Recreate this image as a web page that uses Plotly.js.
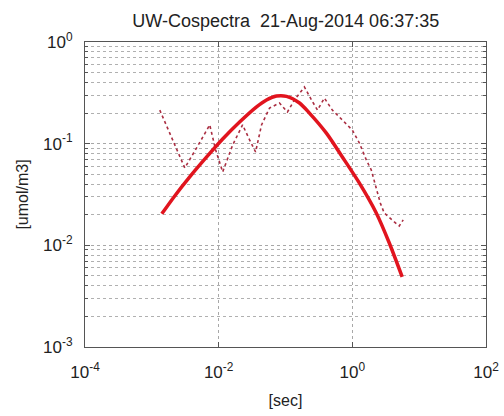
<!DOCTYPE html>
<html><head><meta charset="utf-8">
<script src="https://cdn.plot.ly/plotly-3.0.1.min.js"></script>
<style>html,body{margin:0;padding:0;background:#fff}#chart{width:504px;height:416px}</style>
</head><body><div id="chart"></div>
<script>
// Model (fitted) cospectrum - thick red curve
const modelX = [0.00141, 0.00220, 0.00369, 0.00662, 0.01148, 0.02056, 0.0369, 0.0520, 0.0734, 0.1036, 0.162, 0.228, 0.409, 0.709, 1.27, 2.28, 3.56, 5.57];
const modelY = [0.0204, 0.0306, 0.0471, 0.0740, 0.111, 0.163, 0.230, 0.269, 0.294, 0.292, 0.251, 0.200, 0.127, 0.0740, 0.0411, 0.0208, 0.0106, 0.00489];

// Measured cospectrum - dotted line
const measX = [0.001315, 0.00199, 0.00311, 0.00486, 0.00735, 0.00902, 0.01148, 0.0162, 0.0228, 0.0290, 0.0357, 0.0438, 0.0577, 0.0813, 0.107, 0.136, 0.192, 0.245, 0.301, 0.382, 0.502, 0.709, 1.00, 1.27, 1.62, 1.92, 2.28, 2.62, 3.00, 3.57, 4.24, 5.03, 5.77];
const measY = [0.214, 0.114, 0.0577, 0.0949, 0.153, 0.0867, 0.0527, 0.0971, 0.153, 0.109, 0.0828, 0.153, 0.224, 0.251, 0.205, 0.269, 0.361, 0.269, 0.214, 0.281, 0.214, 0.171, 0.136, 0.102, 0.0691, 0.0551, 0.0375, 0.0261, 0.0208, 0.0186, 0.0170, 0.0155, 0.0178];

const xTickVals = [1e-4, 1e-2, 1, 1e2];
const xTickText = ['10<sup>-4</sup>', '10<sup>-2</sup>', '10<sup>0</sup>', '10<sup>2</sup>'];
const yTickVals = [1e-3, 1e-2, 1e-1, 1];
const yTickText = ['10<sup>-3</sup>', '10<sup>-2</sup>', '10<sup>-1</sup>', '10<sup>0</sup>'];

const titleText = 'UW-Cospectra\u00a0\u00a021-Aug-2014 06:37:35';
const xTitle = '[sec]';
const yTitle = '[umol/m3]';

const yMinor = [];
for (let e = -3; e < 0; e++) for (let m = 2; m <= 9; m++) yMinor.push(m * Math.pow(10, e));

const font = 'Liberation Sans, Arial, sans-serif';

const traces = [
  {x: measX, y: measY, type: 'scatter', mode: 'lines',
   line: {color: 'rgb(170,45,65)', width: 1.6, dash: 'dot'}, hoverinfo: 'skip'},
  {x: modelX, y: modelY, type: 'scatter', mode: 'lines',
   line: {color: 'rgb(225,20,30)', width: 3.5, shape: 'spline', smoothing: 0.8}, hoverinfo: 'skip'}
];

const axisCommon = {
  showline: true, linecolor: '#555', linewidth: 1, mirror: 'allticks',
  ticks: 'inside', ticklen: 5, tickcolor: '#555', tickwidth: 1,
  gridcolor: '#a8a8a8', griddash: 'dot', gridwidth: 1, zeroline: false,
  tickfont: {family: font, size: 17, color: '#222'}
};

const layout = {
  width: 504, height: 416,
  margin: {l: 85, r: 18, t: 42, b: 69},
  paper_bgcolor: '#fff', plot_bgcolor: '#fff',
  showlegend: false,
  title: {text: titleText, font: {family: font, size: 18, color: '#222'}, x: 0.567, xanchor: 'center', y: 0.95, yanchor: 'middle'},
  xaxis: Object.assign({}, axisCommon, {
    type: 'log', range: [-4, 2], tickmode: 'array', tickvals: xTickVals, ticktext: xTickText,
    showgrid: true, ticklabelstandoff: 10,
    title: {text: xTitle, font: {family: font, size: 16, color: '#222'}, standoff: 13}
  }),
  yaxis: Object.assign({}, axisCommon, {
    type: 'log', range: [-3, 0], tickmode: 'array', tickvals: yTickVals, ticktext: yTickText,
    showgrid: true, ticklabelstandoff: 8,
    minor: {tickmode: 'array', tickvals: yMinor, ticks: 'inside', ticklen: 3, tickcolor: '#555',
            showgrid: true, gridcolor: '#b0b0b0', griddash: 'dot', gridwidth: 1},
    title: {text: yTitle, font: {family: font, size: 16, color: '#222'}, standoff: 10}
  })
};

Plotly.newPlot('chart', traces, layout, {staticPlot: true, displayModeBar: false});
</script></body></html>
